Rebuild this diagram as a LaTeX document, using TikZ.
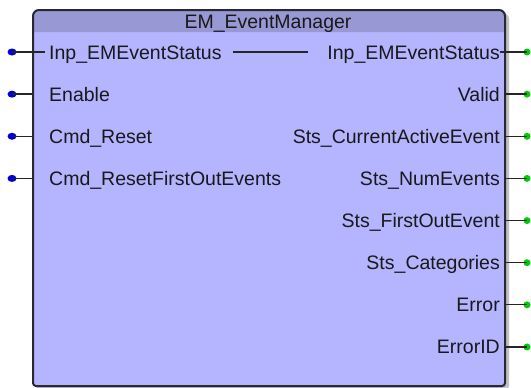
\documentclass[tikz,border=0pt]{standalone}
\usepackage{fontspec}
\usetikzlibrary{shapes.geometric}
\setmainfont{Liberation Sans}
\definecolor{fbbody}{RGB}{180,180,255}
\definecolor{fbhead}{RGB}{152,152,212}
\definecolor{fbedge}{RGB}{40,40,52}
\definecolor{pinin}{RGB}{0,0,215}
\definecolor{pinout}{RGB}{0,205,0}
\begin{document}
\begin{tikzpicture}[x=1pt,y=-1pt,
  lbl/.style={font=\fontsize{19.5}{20}\selectfont, inner sep=0pt, text=black!90},
  inlbl/.style={lbl, anchor=base west},
  outlbl/.style={lbl, anchor=base east},
  wire/.style={line width=1.3pt, black!85},
  indot/.style={ellipse, fill=pinin, inner sep=0pt, minimum width=9pt, minimum height=7pt},
  outdot/.style={circle, fill=pinout, inner sep=0pt, minimum size=7pt}]
\useasboundingbox (0,0) rectangle (531,388);

% block geometry
\def\L{33}\def\R{505}\def\T{10}\def\B{386}\def\H{32}

% drop shadow
\fill[black!35, opacity=0.7] (\L+3,200) [rounded corners=6pt] -- (\L+3,\T+3) -- (\R+4,\T+3) -- (\R+4,200)
  [rounded corners=3pt] -- (\R+4,\B+3) -- (\L+3,\B+3) -- cycle;

% body
\fill[fbbody] (\L,200) [rounded corners=6pt] -- (\L,\T) -- (\R,\T) -- (\R,200)
  [rounded corners=3pt] -- (\R,\B) -- (\L,\B) -- cycle;
% header band
\fill[fbhead] (\L,\H) [rounded corners=6pt] -- (\L,\T) -- (\R,\T) [sharp corners] -- (\R,\H) -- cycle;
% outline
\draw[fbedge, line width=2pt] (\L,200) [rounded corners=6pt] -- (\L,\T) -- (\R,\T) -- (\R,200)
  [rounded corners=3pt] -- (\R,\B) -- (\L,\B) -- cycle;

\node[lbl, anchor=base] (title) at (268,28) {EM\_EventManager};

% inputs
\foreach \k/\name in {0/Inp\_EMEventStatus, 1/Enable, 2/Cmd\_Reset, 3/Cmd\_ResetFirstOutEvents}{
  \pgfmathsetmacro\yy{52+42.14*\k}
  \node[inlbl] (in\k) at (49,\yy+7) {\name};
  \coordinate (ie\k) at (\L,\yy);
  \node[indot] (id\k) at (12,\yy) {};
  \draw[wire] (id\k.center) -- (ie\k);
}
% outputs
\foreach \k/\name in {0/Inp\_EMEventStatus, 1/Valid, 2/Sts\_CurrentActiveEvent, 3/Sts\_NumEvents,
                      4/Sts\_FirstOutEvent, 5/Sts\_Categories, 6/Error, 7/ErrorID}{
  \pgfmathsetmacro\yy{52+42.14*\k}
  \node[outlbl] (out\k) at (500,\yy+7) {\name};
  \coordinate (oe\k) at (\R,\yy);
  \node[outdot] (od\k) at (527,\yy) {};
  \draw[wire] (oe\k) -- (od\k.center);
}

% in-out variable passes straight through the block
\coordinate (thruA) at (45,52);
\coordinate (thruB) at (233,52);
\coordinate (thruC) at (308,52);
\coordinate (thruD) at (500,52);
\draw[wire] (ie0) -- (thruA);
\draw[wire] (thruB) -- (thruC);
\draw[wire] (thruD) -- (oe0);
\end{tikzpicture}
\end{document}
